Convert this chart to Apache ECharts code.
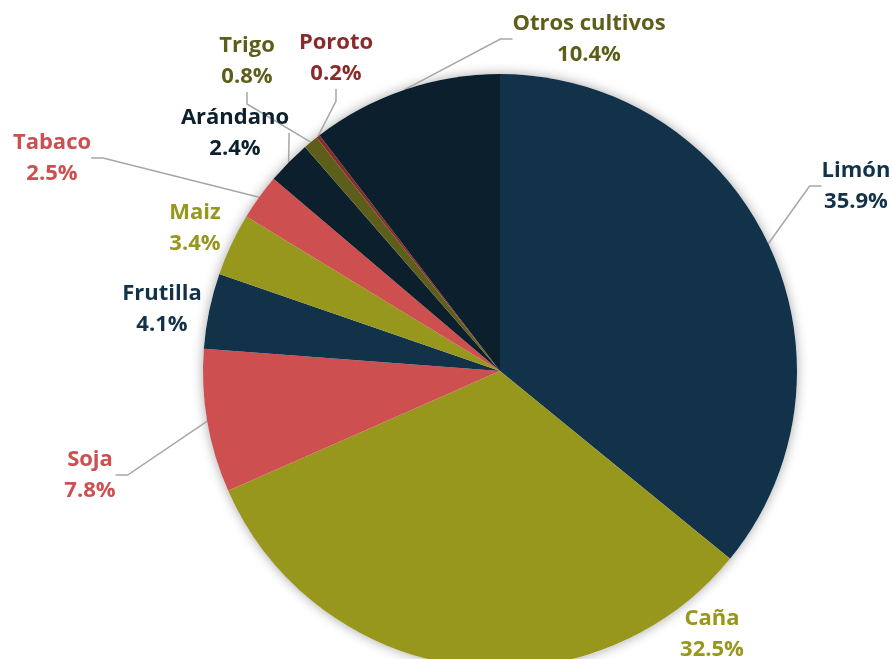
<!DOCTYPE html>
<html><head><meta charset="utf-8">
<script src="https://cdn.jsdelivr.net/npm/echarts@6/dist/echarts.min.js"></script>
<style>html,body{margin:0;padding:0;background:#fff}#c{width:892px;height:659px}</style>
</head><body><div id="c"></div>
<script>
const categories = ['Limón','Caña','Soja','Frutilla','Maiz','Tabaco','Arándano','Trigo','Poroto','Otros cultivos'];
const values = [35.9, 32.5, 7.8, 4.1, 3.4, 2.5, 2.4, 0.8, 0.2, 10.4];

// styling / layout (not data)
const sliceColors = ['#12324a','#97961d','#cd4f4f','#12324a','#97961d','#cd4f4f','#0b1f2c','#5d5e19','#8b2a2a','#0b1f2c'];
const labelColors = ['#12324a','#97961d','#cd4f4f','#12324a','#97961d','#cd4f4f','#0b1f2c','#5d5e19','#8b2a2a','#5d5e19'];
const showLine = [true,false,true,false,false,true,true,true,true,true];
const labelPos = [[856,186],[712,634],[90,475],[162,309],[195,228],[52,158],[235,133],[247,61],[336,58],[589,39]];

const total = values.reduce((a,b)=>a+b,0);
const chart = echarts.init(document.getElementById('c'));
chart.setOption({
  animation:false,
  series:[
    {
      type:'pie', silent:true, center:[500,371], radius:297, z:1,
      label:{show:false}, labelLine:{show:false},
      itemStyle:{color:'#ffffff', shadowBlur:12, shadowColor:'rgba(0,0,0,0.35)'},
      data:[{value: total}]
    },
    {
      type:'pie', center:[500,371], radius:297, startAngle:90, clockwise:true, z:2,
      avoidLabelOverlap:false,
      itemStyle:{borderWidth:0},
      label:{
        show:true, position:'outside', fontFamily:'Open Sans', fontWeight:'bold', fontSize:22, lineHeight:31,
        align:'center',
        formatter: p => p.name + '\n' + p.value.toFixed(1) + '%'
      },
      labelLine:{show:true, length:15, length2:12, smooth:false, lineStyle:{color:'#a6a6a6', width:1.5}},
      labelLayout: p => ({x: labelPos[p.dataIndex][0], y: labelPos[p.dataIndex][1], align:'center', verticalAlign:'middle', hideOverlap:false}),
      data: categories.map((c,i)=>({
        name:c, value:values[i],
        itemStyle:{color:sliceColors[i]},
        label:{color:labelColors[i]},
        labelLine:{show:showLine[i]}
      }))
    }
  ]
});
</script></body></html>
